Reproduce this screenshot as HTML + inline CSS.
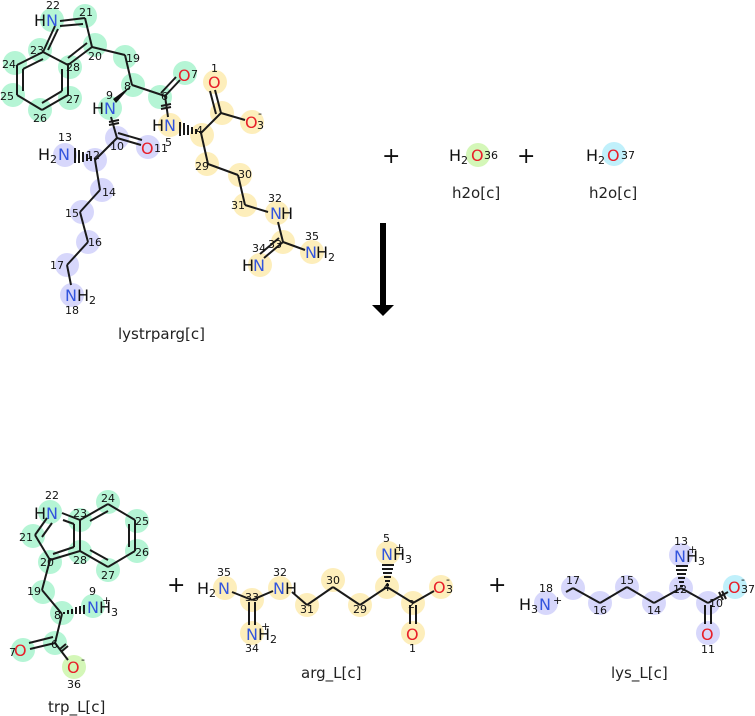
<!DOCTYPE html>
<html><head><meta charset="utf-8"><style>
html,body{margin:0;padding:0;background:#fff}
svg{display:block}
text{font-family:"DejaVu Sans","Liberation Sans",sans-serif}
.n{font-size:11px;fill:#111}
.N{font-size:16px;fill:#3355dd}
.O{font-size:16px;fill:#e8202a}
.H{font-size:16px;fill:#111}
.s{font-size:11px;fill:#111}
.lbl{font-size:15px;fill:#222}
line{stroke:#1a1a1a;stroke-width:2}
.g{fill:#b5f5d5}.b{fill:#d7d7fb}.y{fill:#fdeebb}.l{fill:#d4f7b8}.c{fill:#c0f0fb}
</style></head><body>
<svg width="755" height="716" viewBox="0 0 755 716" xmlns="http://www.w3.org/2000/svg">
<!-- TOP: lystrparg -->
<g>
<circle class="g" cx="52" cy="20" r="12"/><circle class="g" cx="85" cy="16" r="12"/><circle class="g" cx="95" cy="45" r="12"/>
<circle class="g" cx="40" cy="50" r="12"/><circle class="g" cx="15" cy="63" r="12"/><circle class="g" cx="13" cy="95" r="12"/>
<circle class="g" cx="40" cy="110" r="12"/><circle class="g" cx="70" cy="98" r="12"/><circle class="g" cx="70" cy="67" r="12"/>
<circle class="g" cx="125" cy="57" r="12"/><circle class="g" cx="133" cy="85" r="12"/><circle class="g" cx="160" cy="97" r="12"/>
<circle class="g" cx="185" cy="73" r="12"/><circle class="g" cx="110" cy="108" r="12"/>
<circle class="b" cx="117" cy="138" r="12"/><circle class="b" cx="148" cy="147" r="12"/><circle class="b" cx="95" cy="160" r="12"/>
<circle class="b" cx="65" cy="155" r="12"/><circle class="b" cx="102" cy="190" r="12"/><circle class="b" cx="82" cy="212" r="12"/>
<circle class="b" cx="88" cy="242" r="12"/><circle class="b" cx="67" cy="265" r="12"/><circle class="b" cx="72" cy="295" r="12"/>
<circle class="y" cx="215" cy="82" r="12"/><circle class="y" cx="222" cy="113" r="12"/><circle class="y" cx="252" cy="122" r="12"/>
<circle class="y" cx="170" cy="125" r="12"/><circle class="y" cx="202" cy="135" r="12"/><circle class="y" cx="207" cy="164" r="12"/>
<circle class="y" cx="240" cy="175" r="12"/><circle class="y" cx="245" cy="205" r="12"/><circle class="y" cx="277" cy="213" r="12"/>
<circle class="y" cx="283" cy="242" r="12"/><circle class="y" cx="260" cy="265" r="12"/><circle class="y" cx="312" cy="252" r="12"/>
<!-- bonds -->
<line x1="43" y1="52" x2="17" y2="65"/><line x1="17" y1="65" x2="17" y2="95"/><line x1="17" y1="95" x2="42" y2="110"/>
<line x1="42" y1="110" x2="68" y2="95"/><line x1="68" y1="95" x2="68" y2="65"/><line x1="68" y1="65" x2="43" y2="52"/>
<line x1="43" y1="59" x2="23" y2="69"/><line x1="23" y1="69" x2="23" y2="91"/><line x1="42" y1="103" x2="62" y2="91"/><line x1="62" y1="91" x2="62" y2="69"/>
<line x1="43" y1="52" x2="55" y2="26"/><line x1="48" y1="50" x2="58" y2="29"/>
<line x1="60" y1="21" x2="85" y2="18"/><line x1="60" y1="26" x2="83" y2="24"/>
<line x1="85" y1="18" x2="92" y2="47"/><line x1="92" y1="47" x2="68" y2="65"/><line x1="87" y1="43" x2="68" y2="58"/>
<line x1="92" y1="47" x2="125" y2="55"/><line x1="125" y1="55" x2="132" y2="85"/>
<polygon points="132,85 116,103 113,99" fill="#111"/>
<line x1="132" y1="85" x2="165" y2="96"/><line x1="165" y1="96" x2="180" y2="80"/><line x1="161" y1="93" x2="176" y2="77"/>
<line x1="165" y1="96" x2="168" y2="117"/><line x1="161" y1="106" x2="171" y2="104"/><line x1="161" y1="109" x2="171" y2="107"/>
<line x1="111" y1="117" x2="117" y2="138"/><line x1="109" y1="122" x2="119" y2="120"/><line x1="109" y1="125" x2="119" y2="123"/>
<line x1="117" y1="138" x2="141" y2="145"/><line x1="118" y1="133" x2="142" y2="140"/>
<line x1="117" y1="138" x2="95" y2="160"/>
<g stroke="#111" stroke-width="1.2"><line x1="95" y1="160" x2="95" y2="158"/><line x1="91" y1="161" x2="91" y2="156"/><line x1="87" y1="161" x2="87" y2="154"/><line x1="83" y1="162" x2="83" y2="152"/><line x1="79" y1="163" x2="79" y2="150"/><line x1="75" y1="163" x2="75" y2="148"/></g>
<line x1="95" y1="160" x2="100" y2="190"/><line x1="100" y1="190" x2="80" y2="212"/><line x1="80" y1="212" x2="88" y2="242"/>
<line x1="88" y1="242" x2="67" y2="265"/><line x1="67" y1="265" x2="71" y2="285"/>
<g stroke="#111" stroke-width="1.2"><line x1="200" y1="133" x2="200" y2="131"/><line x1="196" y1="134" x2="196" y2="129"/><line x1="192" y1="134" x2="192" y2="127"/><line x1="188" y1="135" x2="188" y2="125"/><line x1="184" y1="135" x2="184" y2="123"/><line x1="180" y1="136" x2="180" y2="122"/></g>
<line x1="201" y1="133" x2="221" y2="113"/><line x1="221" y1="113" x2="215" y2="90"/><line x1="216" y1="114" x2="210" y2="91"/>
<line x1="221" y1="113" x2="245" y2="120"/>
<line x1="201" y1="133" x2="208" y2="164"/><line x1="208" y1="164" x2="238" y2="175"/><line x1="238" y1="175" x2="245" y2="205"/>
<line x1="245" y1="205" x2="268" y2="212"/><line x1="278" y1="222" x2="283" y2="242"/><line x1="283" y1="242" x2="305" y2="250"/>
<line x1="283" y1="242" x2="264" y2="258"/><line x1="279" y1="238" x2="260" y2="254"/>
<!-- labels -->
<text class="H" x="34" y="26">H</text><text class="N" x="46" y="26">N</text><text class="n" x="46" y="9">22</text>
<text class="n" x="79" y="16">21</text><text class="n" x="88" y="60">20</text><text class="n" x="30" y="54">23</text>
<text class="n" x="2" y="68">24</text><text class="n" x="0" y="100">25</text><text class="n" x="33" y="122">26</text>
<text class="n" x="66" y="103">27</text><text class="n" x="66" y="71">28</text><text class="n" x="126" y="62">19</text>
<text class="n" x="124" y="90">8</text><text class="n" x="161" y="100">6</text>
<text class="O" x="178" y="81">O</text><text class="n" x="191" y="78">7</text>
<text class="H" x="92" y="114">H</text><text class="N" x="104" y="114">N</text><text class="n" x="106" y="99">9</text>
<text class="n" x="110" y="150">10</text><text class="O" x="141" y="154">O</text><text class="n" x="154" y="152">11</text>
<text class="H" x="38" y="160">H</text><text class="s" x="50" y="163">2</text><text class="N" x="58" y="160">N</text><text class="n" x="58" y="141">13</text>
<text class="n" x="86" y="159">12</text><text class="n" x="102" y="196">14</text><text class="n" x="65" y="217">15</text>
<text class="n" x="88" y="246">16</text><text class="n" x="50" y="269">17</text>
<text class="N" x="65" y="301">N</text><text class="H" x="77" y="301">H</text><text class="s" x="89" y="304">2</text><text class="n" x="65" y="314">18</text>
<text class="H" x="152" y="131">H</text><text class="N" x="164" y="131">N</text><text class="n" x="165" y="146">5</text>
<text class="n" x="196" y="134">4</text><text class="O" x="208" y="88">O</text><text class="n" x="211" y="72">1</text>
<text class="O" x="245" y="128">O</text><text class="n" x="257" y="129">3</text><text class="n" x="258" y="117">-</text>
<text class="n" x="195" y="170">29</text><text class="n" x="238" y="178">30</text><text class="n" x="231" y="209">31</text>
<text class="N" x="270" y="219">N</text><text class="H" x="281" y="219">H</text><text class="n" x="268" y="202">32</text>
<text class="n" x="268" y="248">33</text><text class="n" x="252" y="252">34</text>
<text class="H" x="242" y="271">H</text><text class="N" x="253" y="271">N</text>
<text class="N" x="305" y="258">N</text><text class="H" x="316" y="258">H</text><text class="s" x="328" y="261">2</text><text class="n" x="305" y="240">35</text>
<text class="lbl" x="118" y="339">lystrparg[c]</text>
</g>
<!-- + h2o + h2o -->
<text x="382" y="163" style="font-size:22px;fill:#111">+</text>
<circle class="l" cx="478" cy="155" r="12"/>
<text class="H" x="449" y="161">H</text><text class="s" x="461" y="164">2</text><text class="O" x="471" y="161">O</text><text class="n" x="484" y="159">36</text>
<text class="lbl" x="452" y="198">h2o[c]</text>
<text x="517" y="163" style="font-size:22px;fill:#111">+</text>
<circle class="c" cx="614" cy="154" r="12"/>
<text class="H" x="586" y="161">H</text><text class="s" x="598" y="164">2</text><text class="O" x="607" y="161">O</text><text class="n" x="621" y="159">37</text>
<text class="lbl" x="589" y="198">h2o[c]</text>
<!-- arrow -->
<rect x="380" y="223" width="6" height="85" fill="#000"/>
<polygon points="372,305 394,305 383,316" fill="#000"/>
<!-- BOTTOM trp -->
<g>
<circle class="g" cx="50" cy="512" r="12"/><circle class="g" cx="33" cy="536" r="12"/><circle class="g" cx="50" cy="562" r="12"/>
<circle class="g" cx="80" cy="520" r="12"/><circle class="g" cx="108" cy="502" r="12"/><circle class="g" cx="137" cy="521" r="12"/>
<circle class="g" cx="137" cy="551" r="12"/><circle class="g" cx="108" cy="570" r="12"/><circle class="g" cx="80" cy="552" r="12"/>
<circle class="g" cx="43" cy="592" r="12"/><circle class="g" cx="62" cy="613" r="12"/><circle class="g" cx="93" cy="606" r="12"/>
<circle class="g" cx="55" cy="643" r="12"/><circle class="g" cx="23" cy="650" r="12"/><circle class="l" cx="74" cy="667" r="12"/>
<line x1="80" y1="520" x2="108" y2="504"/><line x1="108" y1="504" x2="135" y2="520"/><line x1="135" y1="520" x2="135" y2="551"/>
<line x1="135" y1="551" x2="108" y2="567"/><line x1="108" y1="567" x2="80" y2="551"/><line x1="80" y1="551" x2="80" y2="520"/>
<line x1="90" y1="521" x2="108" y2="511"/><line x1="129" y1="524" x2="129" y2="547"/><line x1="108" y1="560" x2="90" y2="550"/>
<line x1="62" y1="513" x2="80" y2="520"/><line x1="63" y1="520" x2="74" y2="524"/><line x1="74" y1="524" x2="74" y2="547"/>
<line x1="47" y1="518" x2="35" y2="535"/><line x1="52" y1="523" x2="42" y2="537"/>
<line x1="35" y1="535" x2="50" y2="560"/><line x1="50" y1="560" x2="80" y2="551"/><line x1="53" y1="554" x2="74" y2="547"/>
<line x1="50" y1="560" x2="42" y2="590"/><line x1="42" y1="590" x2="62" y2="614"/><line x1="62" y1="614" x2="55" y2="643"/>
<g stroke="#111" stroke-width="1.2"><line x1="64" y1="614" x2="64" y2="612"/><line x1="68" y1="614" x2="68" y2="610"/><line x1="72" y1="614" x2="72" y2="609"/><line x1="76" y1="614" x2="76" y2="607"/><line x1="80" y1="614" x2="80" y2="606"/><line x1="84" y1="614" x2="84" y2="605"/></g>
<line x1="55" y1="643" x2="30" y2="649"/><line x1="53" y1="637" x2="29" y2="643"/><line x1="55" y1="643" x2="68" y2="660"/>
<line x1="60" y1="649" x2="66" y2="644"/><line x1="62" y1="651" x2="68" y2="646"/>
<text class="H" x="34" y="519">H</text><text class="N" x="46" y="519">N</text><text class="n" x="45" y="499">22</text>
<text class="n" x="73" y="517">23</text><text class="n" x="101" y="502">24</text><text class="n" x="135" y="525">25</text>
<text class="n" x="135" y="556">26</text><text class="n" x="101" y="579">27</text><text class="n" x="73" y="564">28</text>
<text class="n" x="19" y="541">21</text><text class="n" x="40" y="566">20</text><text class="n" x="27" y="595">19</text>
<text class="n" x="54" y="619">8</text><text class="n" x="89" y="595">9</text>
<text class="N" x="87" y="613">N</text><text class="H" x="99" y="613">H</text><text class="s" x="111" y="616">3</text><text class="n" x="102" y="604">+</text>
<text class="n" x="51" y="648">6</text><text class="n" x="9" y="656">7</text><text class="O" x="14" y="656">O</text>
<text class="O" x="67" y="673">O</text><text class="n" x="81" y="663">-</text><text class="n" x="67" y="688">36</text>
<text class="lbl" x="48" y="712">trp_L[c]</text>
</g>
<text x="167" y="592" style="font-size:22px;fill:#111">+</text>
<!-- arg -->
<g>
<circle class="y" cx="225" cy="588" r="12"/><circle class="y" cx="252" cy="600" r="12"/><circle class="y" cx="252" cy="633" r="12"/>
<circle class="y" cx="280" cy="588" r="12"/><circle class="y" cx="307" cy="605" r="12"/><circle class="y" cx="333" cy="580" r="12"/>
<circle class="y" cx="360" cy="605" r="12"/><circle class="y" cx="387" cy="587" r="12"/><circle class="y" cx="388" cy="553" r="12"/>
<circle class="y" cx="413" cy="603" r="12"/><circle class="y" cx="441" cy="587" r="12"/><circle class="y" cx="413" cy="633" r="12"/>
<line x1="232" y1="592" x2="252" y2="600"/><line x1="252" y1="600" x2="273" y2="591"/>
<line x1="249" y1="602" x2="249" y2="625"/><line x1="255" y1="602" x2="255" y2="625"/>
<line x1="292" y1="592" x2="307" y2="605"/><line x1="307" y1="605" x2="333" y2="587"/><line x1="333" y1="587" x2="360" y2="605"/>
<line x1="360" y1="605" x2="387" y2="587"/><line x1="387" y1="587" x2="413" y2="603"/><line x1="413" y1="603" x2="434" y2="591"/>
<line x1="410" y1="605" x2="410" y2="624"/><line x1="416" y1="605" x2="416" y2="624"/>
<g stroke="#111" stroke-width="1.2"><line x1="386" y1="585" x2="389" y2="585"/><line x1="385" y1="581" x2="390" y2="581"/><line x1="384" y1="577" x2="391" y2="577"/><line x1="383" y1="573" x2="392" y2="573"/><line x1="382" y1="569" x2="393" y2="569"/><line x1="382" y1="565" x2="394" y2="565"/></g>
<text class="H" x="197" y="594">H</text><text class="s" x="209" y="597">2</text><text class="N" x="218" y="594">N</text><text class="n" x="217" y="576">35</text>
<text class="n" x="245" y="601">33</text><text class="N" x="246" y="640">N</text><text class="H" x="258" y="640">H</text><text class="s" x="270" y="643">2</text><text class="n" x="261" y="630">+</text><text class="n" x="245" y="652">34</text>
<text class="N" x="273" y="594">N</text><text class="H" x="285" y="594">H</text><text class="n" x="273" y="576">32</text>
<text class="n" x="300" y="613">31</text><text class="n" x="326" y="584">30</text><text class="n" x="353" y="613">29</text>
<text class="n" x="383" y="591">4</text><text class="N" x="381" y="560">N</text><text class="H" x="393" y="560">H</text><text class="s" x="405" y="563">3</text><text class="n" x="395" y="551">+</text><text class="n" x="383" y="542">5</text>
<text class="n" x="408" y="608">2</text><text class="O" x="433" y="593">O</text><text class="n" x="446" y="593">3</text><text class="n" x="446" y="583">-</text>
<text class="O" x="406" y="640">O</text><text class="n" x="409" y="652">1</text>
<text class="lbl" x="301" y="678">arg_L[c]</text>
</g>
<text x="488" y="592" style="font-size:22px;fill:#111">+</text>
<!-- lys -->
<g>
<circle class="b" cx="546" cy="603" r="12"/><circle class="b" cx="573" cy="588" r="12"/><circle class="b" cx="600" cy="603" r="12"/>
<circle class="b" cx="627" cy="587" r="12"/><circle class="b" cx="654" cy="603" r="12"/><circle class="b" cx="681" cy="588" r="12"/>
<circle class="b" cx="681" cy="555" r="12"/><circle class="b" cx="708" cy="603" r="12"/><circle class="b" cx="708" cy="633" r="12"/>
<circle class="c" cx="735" cy="587" r="12"/>
<line x1="566" y1="592" x2="573" y2="588"/><line x1="573" y1="588" x2="600" y2="603"/><line x1="600" y1="603" x2="627" y2="587"/>
<line x1="627" y1="587" x2="654" y2="603"/><line x1="654" y1="603" x2="681" y2="588"/><line x1="681" y1="588" x2="708" y2="603"/>
<line x1="708" y1="603" x2="728" y2="592"/><line x1="705" y1="605" x2="705" y2="624"/><line x1="711" y1="605" x2="711" y2="624"/>
<line x1="719" y1="592" x2="723" y2="600"/><line x1="722" y1="591" x2="726" y2="599"/>
<g stroke="#111" stroke-width="1.2"><line x1="680" y1="586" x2="683" y2="586"/><line x1="679" y1="582" x2="684" y2="582"/><line x1="678" y1="578" x2="685" y2="578"/><line x1="677" y1="574" x2="686" y2="574"/><line x1="676" y1="570" x2="687" y2="570"/><line x1="676" y1="566" x2="688" y2="566"/></g>
<text class="H" x="519" y="610">H</text><text class="s" x="531" y="613">3</text><text class="N" x="539" y="610">N</text><text class="n" x="553" y="604">+</text><text class="n" x="539" y="592">18</text>
<text class="n" x="566" y="584">17</text><text class="n" x="593" y="614">16</text><text class="n" x="620" y="584">15</text>
<text class="n" x="647" y="614">14</text><text class="n" x="673" y="593">12</text>
<text class="N" x="674" y="562">N</text><text class="H" x="686" y="562">H</text><text class="s" x="698" y="565">3</text><text class="n" x="688" y="553">+</text><text class="n" x="674" y="545">13</text>
<text class="n" x="709" y="607">10</text><text class="O" x="728" y="593">O</text><text class="n" x="741" y="593">37</text><text class="n" x="741" y="583">-</text>
<text class="O" x="701" y="640">O</text><text class="n" x="701" y="653">11</text>
<text class="lbl" x="611" y="678">lys_L[c]</text>
</g>
</svg>
</body></html>
